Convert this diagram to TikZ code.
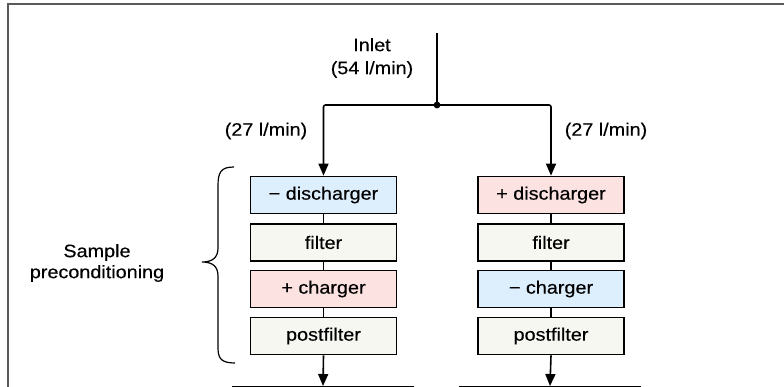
\documentclass[tikz,border=0pt]{standalone}
\usepackage{fontspec}
\setmainfont{Liberation Sans}[FakeStretch=1.1, FakeBold=0.3]
\usetikzlibrary{arrows.meta}
\definecolor{negblue}{HTML}{DDEEFD}
\definecolor{pospink}{HTML}{FDE2E2}
\definecolor{plain}{HTML}{F7F7F2}
\definecolor{framegray}{HTML}{5A5A5A}
\tikzset{
  stagebox/.style={draw=black, line width=1.7pt, minimum width=146pt, minimum height=37pt, inner sep=0pt, font=\fontsize{18}{22}\selectfont},
  negbox/.style={stagebox, fill=negblue},
  posbox/.style={stagebox, fill=pospink},
  plainbox/.style={stagebox, fill=plain},
  lowbox/.style={draw=black, line width=1.4pt, minimum width=180pt, minimum height=40pt, anchor=north, inner sep=0pt},
  flow/.style={line width=1.6pt, -{Triangle[length=12pt,width=10pt]}},
  link/.style={line width=1.6pt},
  lbl/.style={font=\fontsize{18}{23}\selectfont, align=center, inner sep=0pt},
}
\begin{document}
\begin{tikzpicture}[x=1pt,y=-1pt]
\useasboundingbox (0,0) rectangle (784,387);
\clip (0,0) rectangle (784,387);
\fill[white] (0,0) rectangle (784,387);
% frame
\draw[framegray, line width=2pt] (8,400) -- (8,4) -- (790,4);

% inlet
\coordinate (inlet) at (437,33);
\coordinate (split) at (437,105);
\node[lbl] (inletlbl) at (372,58) {Inlet\\(54 l/min)};
\node[lbl] (flowL) at (266,131) {(27 l/min)};
\node[lbl] (flowR) at (606,131) {(27 l/min)};

% left column
\node[negbox] (l1) at (323.5,195) {− discharger};
\node[plainbox] (l2) at (323.5,242.5) {filter};
\node[posbox] (l3) at (323.5,289) {+ charger};
\node[plainbox] (l4) at (323.5,336) {postfilter};
% right column
\node[posbox] (r1) at (551,195) {+ discharger};
\node[plainbox] (r2) at (551,242.5) {filter};
\node[negbox] (r3) at (551,289) {− charger};
\node[plainbox] (r4) at (551,336) {postfilter};

% lower boxes (cut off by the frame edge)
\node[lowbox] (lb) at (323,386) {};
\node[lowbox] (rb) at (550,386) {};

% connectors
\draw[link] (inlet) -- (split);
\fill (split) circle (3.4pt);
\draw[flow, rounded corners=2pt] (split) -| (l1.north);
\draw[flow, rounded corners=2pt] (split) -| (r1.north);
\draw[link] (l1) -- (l2);
\draw[link] (l2) -- (l3);
\draw[link] (l3) -- (l4);
\draw[link] (r1) -- (r2);
\draw[link] (r2) -- (r3);
\draw[link] (r3) -- (r4);
\draw[flow] (l4.south) -- (lb.north);
\draw[flow] (r4.south) -- (rb.north);

% brace
\draw[line width=1.2pt] (234,167) .. controls (221,167) and (218,172) .. (218,186)
  -- (218,248) .. controls (218,258) and (212,262) .. (202,262)
  .. controls (212,262) and (218,266) .. (218,276)
  -- (218,348) .. controls (218,359) and (222,363) .. (235,363);
\node[lbl, font=\fontsize{18}{21}\selectfont] (sp) at (97,263) {Sample\\preconditioning};
\end{tikzpicture}
\end{document}
